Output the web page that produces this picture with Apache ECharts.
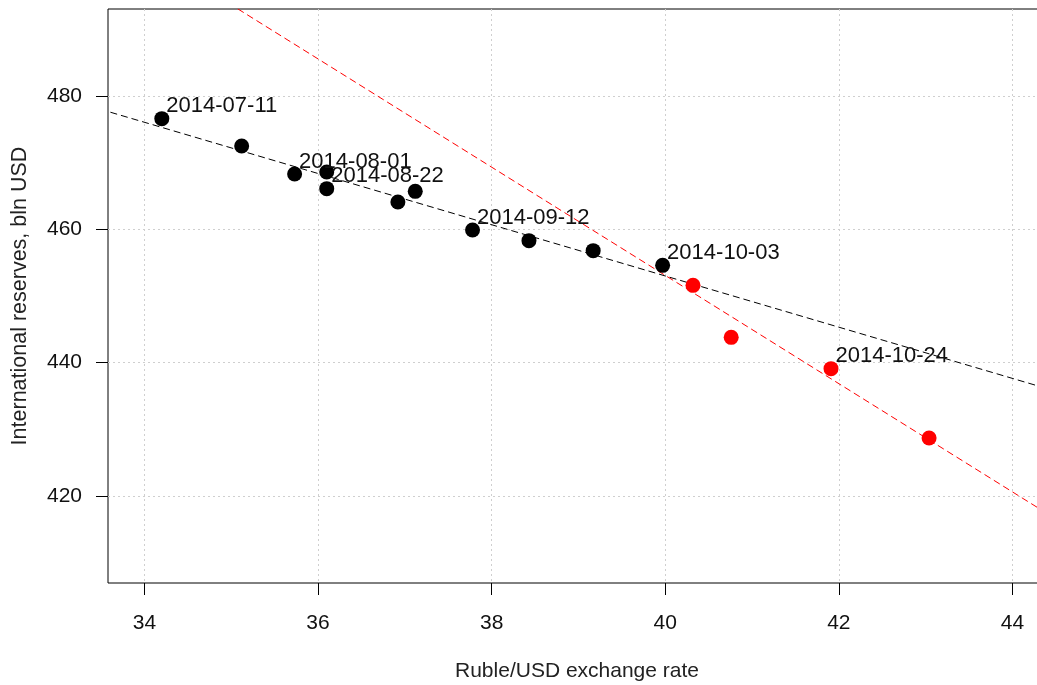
<!DOCTYPE html>
<html><head><meta charset="utf-8">
<script src="https://cdn.jsdelivr.net/npm/echarts@6/dist/echarts.min.js"></script>
<style>html,body{margin:0;padding:0;background:#fff}#c{width:1037px;height:685px}</style>
</head><body><div id="c"></div>
<script>
// Black points (before the break)
const blackX = [34.20, 35.12, 35.73, 36.10, 36.10, 36.92, 37.12, 37.78, 38.43, 39.17, 39.97];
const blackY = [476.6, 472.5, 468.3, 468.6, 466.1, 464.1, 465.7, 459.9, 458.3, 456.8, 454.6];
const blackLabels = ['2014-07-11', '', '2014-08-01', '', '2014-08-22', '', '', '2014-09-12', '', '', '2014-10-03'];
// Red points (after the break)
const redX = [40.32, 40.76, 41.91, 43.04];
const redY = [451.6, 443.8, 439.1, 428.7];
const redLabels = ['', '', '2014-10-24', ''];
// Fitted lines, endpoints
const blackFitX = [33.0, 45.0];
const blackFitY = [479.9, 433.8];
const redFitX = [34.0, 45.0];
const redFitY = [501.8, 412.5];
// Ticks
const xTicks = [34, 36, 38, 40, 42, 44];
const yTicks = [420, 440, 460, 480];

const FONT = 'Liberation Sans, Arial, sans-serif';
const pts = (xs, ys, ls) => xs.map((x, i) => ({value: [x, ys[i]], name: ls ? ls[i] : ''}));
const lbl = {
  show: true, formatter: p => p.name, position: [12, 6], align: 'left', verticalAlign: 'bottom',
  fontFamily: FONT, fontSize: 22, color: '#111', opacity: 1
};
const chart = echarts.init(document.getElementById('c'), null, {renderer: 'canvas'});
chart.setOption({
  animation: false,
  grid: {left: 108, top: 9, bottom: 102, right: -9, show: true, borderColor: '#000', borderWidth: 1,
         containLabel: false, outerBoundsMode: 'none'},
  xAxis: {
    type: 'value', min: 33.58, max: 44.387,
    name: 'Ruble/USD exchange rate', nameLocation: 'middle', nameGap: 78,
    nameTextStyle: {fontFamily: FONT, fontSize: 21, color: '#222'},
    axisLine: {show: false},
    axisTick: {show: true, length: 12, inside: false, customValues: xTicks, lineStyle: {color: '#000'}},
    axisLabel: {customValues: xTicks, margin: 30, fontFamily: FONT, fontSize: 21, color: '#111'},
    splitLine: {show: true, lineStyle: {color: '#cfcfcf', type: [2, 3], width: 1}}
  },
  yAxis: {
    type: 'value', min: 406.95, max: 493.05,
    name: 'International reserves, bln USD', nameLocation: 'middle', nameGap: 77,
    nameTextStyle: {fontFamily: FONT, fontSize: 21.5, color: '#222'},
    axisLine: {show: false},
    axisTick: {show: true, length: 12, inside: false, customValues: yTicks, lineStyle: {color: '#000'}},
    axisLabel: {customValues: yTicks, margin: 26, fontFamily: FONT, fontSize: 21, color: '#111'},
    splitLine: {show: true, lineStyle: {color: '#cfcfcf', type: [2, 3], width: 1}}
  },
  series: [
    {type: 'line', data: blackFitX.map((x, i) => [x, blackFitY[i]]), symbol: 'none', clip: true,
     lineStyle: {color: '#000', width: 1, type: [7, 4]}, z: 1},
    {type: 'line', data: redFitX.map((x, i) => [x, redFitY[i]]), symbol: 'none', clip: true,
     lineStyle: {color: '#ff0000', width: 1, type: [7, 4]}, z: 1},
    {type: 'scatter', data: pts(blackX, blackY, blackLabels), symbol: 'circle', symbolSize: 15,
     itemStyle: {color: '#000', opacity: 1}, label: lbl, z: 3},
    {type: 'scatter', data: pts(redX, redY, redLabels), symbol: 'circle', symbolSize: 15,
     itemStyle: {color: '#ff0000', opacity: 1}, label: lbl, z: 3}
  ]
});
</script></body></html>
